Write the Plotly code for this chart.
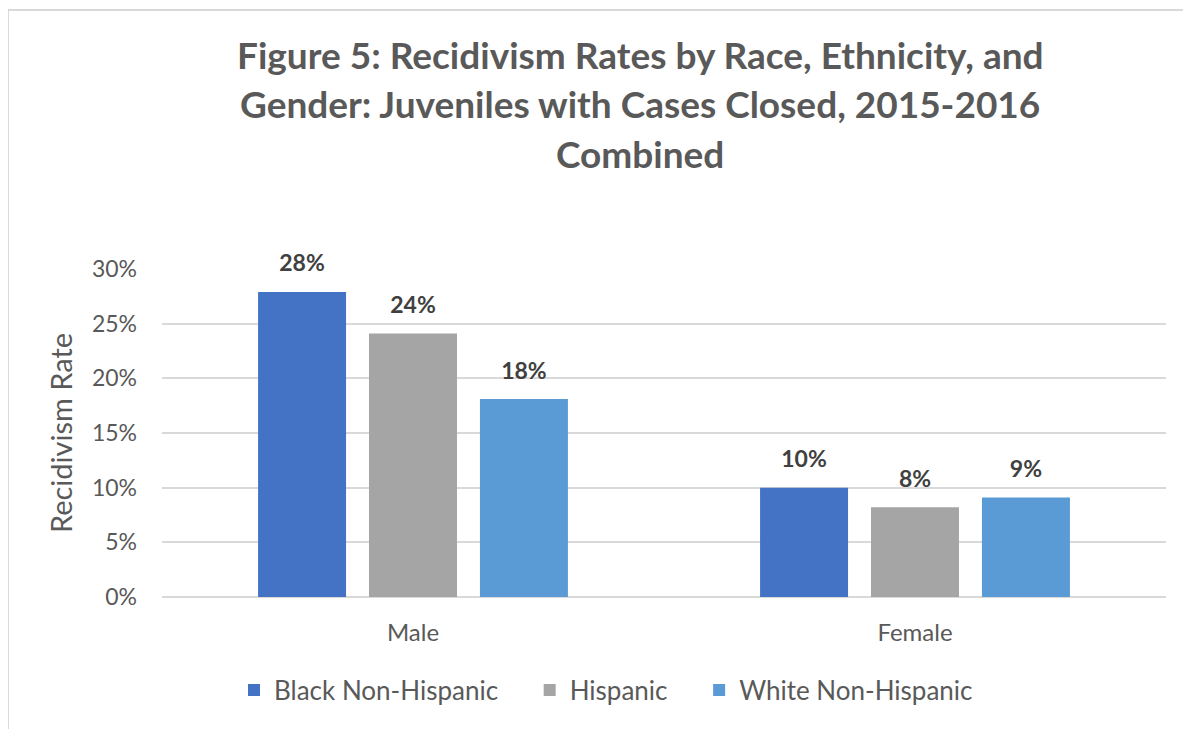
import plotly.graph_objects as go

categories = ["Male", "Female"]
series_names = ["Black Non-Hispanic", "Hispanic", "White Non-Hispanic"]
black_nh = [0.279, 0.100]
hispanic = [0.241, 0.082]
white_nh = [0.181, 0.091]
colors = ["#4472C4", "#A5A5A5", "#5B9BD5"]
title_lines = [
    "Figure 5: Recidivism Rates by Race, Ethnicity, and",
    "Gender: Juveniles with Cases Closed, 2015-2016",
    "Combined",
]
y_ticks = [0, 0.05, 0.10, 0.15, 0.20, 0.25, 0.30]

OFF = 8  # default page body margin
W, H = 1191, 729
ML, MR, MT, MB = 162 - OFF, 25 + OFF, 269 - OFF, 132 + OFF
PW, PH = W - ML - MR, H - MT - MB

FONT = "Lato"
TXT = "#595959"
BARGAP = 0.337
PAD = "\u00a0" * 4  # extra spacing between legend entries

fig = go.Figure()
for i, (name, vals, col) in enumerate(zip(series_names, [black_nh, hispanic, white_nh], colors)):
    label = name + (PAD if i < len(series_names) - 1 else "")
    fig.add_trace(go.Bar(
        x=categories, y=vals, name=label,
        marker=dict(color=col, line=dict(width=0)),
        offsetgroup=name,
    ))
for name, vals in zip(series_names, [black_nh, hispanic, white_nh]):
    fig.add_trace(go.Scatter(
        x=categories, y=vals, mode="markers+text", showlegend=False,
        marker=dict(size=22, opacity=0), hoverinfo="skip",
        texttemplate="<b>%{y:.0%}</b>", textposition="top center",
        textfont=dict(family=FONT, size=23, color="#404040"),
        offsetgroup=name, cliponaxis=False,
    ))

def px_x(p):
    return (p - OFF - ML) / PW

def px_y(p):
    return 1 - (p - OFF - MT) / PH

annotations = []
for i, line in enumerate(title_lines):
    annotations.append(dict(
        text="<b>" + line + "</b>", x=px_x(640), y=px_y(54 + i * 49.5),
        xref="paper", yref="paper", xanchor="center", yanchor="middle",
        showarrow=False, font=dict(family=FONT, size=37, color=TXT),
    ))

shapes = [dict(
    type="rect", xref="paper", yref="paper",
    x0=px_x(OFF), x1=px_x(1300), y0=px_y(800), y1=px_y(10),
    line=dict(color="#D9D9D9", width=2), fillcolor="rgba(0,0,0,0)",
    layer="below",
)]

fig.update_layout(
    width=W, height=H,
    margin=dict(l=ML, r=MR, t=MT, b=MB, autoexpand=False),
    paper_bgcolor="white", plot_bgcolor="white",
    barmode="group", bargap=BARGAP, bargroupgap=0.207,
    scattermode="group", scattergap=BARGAP,
    font=dict(family=FONT, color=TXT),
    annotations=annotations, shapes=shapes,
    showlegend=True,
    legend=dict(
        orientation="h", x=px_x(606), xanchor="center",
        y=px_y(690), yanchor="middle",
        font=dict(family=FONT, size=26, color=TXT),
        bgcolor="rgba(0,0,0,0)",
    ),
    xaxis=dict(
        showgrid=False, showline=False, zeroline=False, ticks="",
        tickfont=dict(family=FONT, size=24, color=TXT),
        ticklabelstandoff=19,
    ),
    yaxis=dict(
        range=[0, 0.30], tickvals=y_ticks, tickformat=".0%",
        showgrid=True, gridcolor="#D9D9D9", gridwidth=2,
        zeroline=True, zerolinecolor="#D9D9D9", zerolinewidth=2,
        showline=False, ticks="",
        tickfont=dict(family=FONT, size=23, color=TXT),
        ticklabelstandoff=24,
        title=dict(text="Recidivism Rate", standoff=10,
                   font=dict(family=FONT, size=29, color=TXT)),
    ),
)

fig.write_html("out.html")
